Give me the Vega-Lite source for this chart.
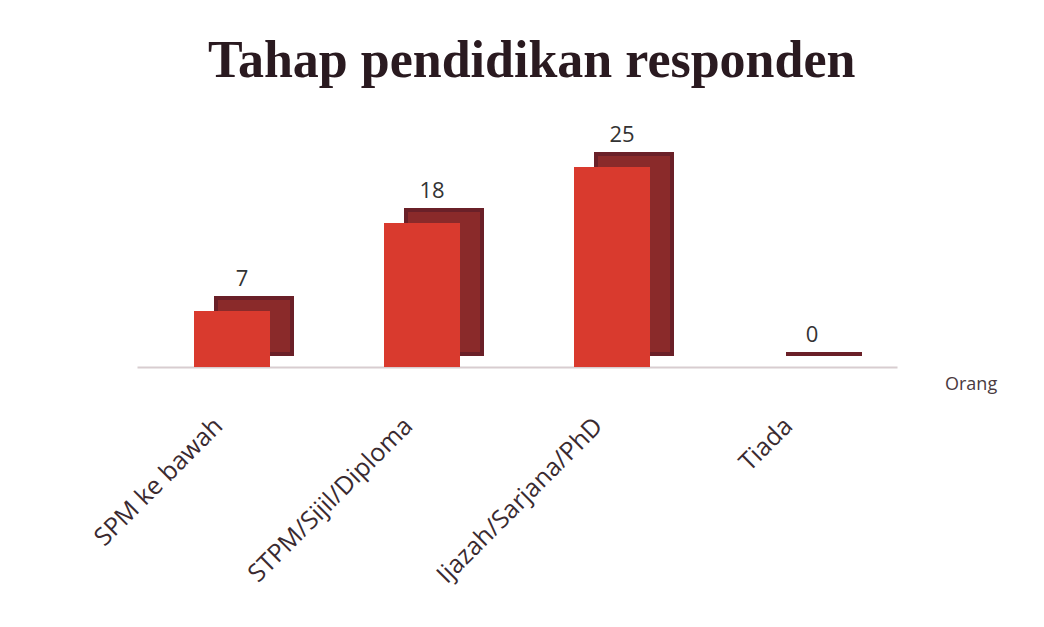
{
  "$schema": "https://vega.github.io/schema/vega-lite/v6.json",
  "autosize": {"type": "none"},
  "width": 760,
  "height": 240,
  "padding": {"left": 137, "top": 127, "right": 147, "bottom": 260},
  "background": "white",
  "config": {"view": {"stroke": null}},
  "title": {
    "text": "Tahap pendidikan responden",
    "font": "Liberation Serif",
    "fontSize": 52,
    "fontWeight": "bold",
    "color": "#2a1a20",
    "anchor": "start",
    "frame": "group",
    "offset": 36,
    "dx": 71
  },
  "data": {
    "values": [
      {"kategori": "SPM ke bawah", "bilangan": 7, "siri": "Orang"},
      {"kategori": "STPM/Sijil/Diploma", "bilangan": 18, "siri": "Orang"},
      {"kategori": "Ijazah/Sarjana/PhD", "bilangan": 25, "siri": "Orang"},
      {"kategori": "Tiada", "bilangan": 0, "siri": "Orang"}
    ]
  },
  "encoding": {
    "x": {
      "field": "kategori",
      "type": "nominal",
      "sort": null,
      "scale": {"paddingInner": 0.6, "paddingOuter": 0.3},
      "axis": {
        "title": null,
        "labelAngle": -45,
        "labelFont": "Open Sans",
        "labelFontSize": 25,
        "labelColor": "#3a2a30",
        "labelPadding": 46,
        "labelOffset": -22,
        "ticks": false,
        "domain": true,
        "domainColor": "#d8cdd0",
        "domainWidth": 2,
        "labelLimit": 400
      }
    },
    "y": {
      "field": "bilangan",
      "type": "quantitative",
      "scale": {"domain": [0, 30]},
      "axis": null
    }
  },
  "layer": [
    {
      "mark": {"type": "bar", "color": "#8a2a2a", "xOffset": 22, "yOffset": -13, "stroke": "#6a2028", "strokeWidth": 4}
    },
    {
      "mark": {"type": "bar"},
      "encoding": {
        "color": {
          "field": "siri",
          "type": "nominal",
          "scale": {"range": ["#d93a2e"]},
          "legend": {
            "title": null,
            "orient": "none",
            "legendX": 786,
            "legendY": 249,
            "symbolOpacity": 0,
            "symbolSize": 0,
            "labelFont": "Open Sans",
            "labelFontSize": 18,
            "labelColor": "#4a3a40"
          }
        }
      }
    },
    {
      "mark": {"type": "text", "dy": -32, "dx": 10, "font": "Open Sans", "fontSize": 22, "color": "#333333"},
      "encoding": {"text": {"field": "bilangan", "type": "quantitative"}}
    }
  ]
}
